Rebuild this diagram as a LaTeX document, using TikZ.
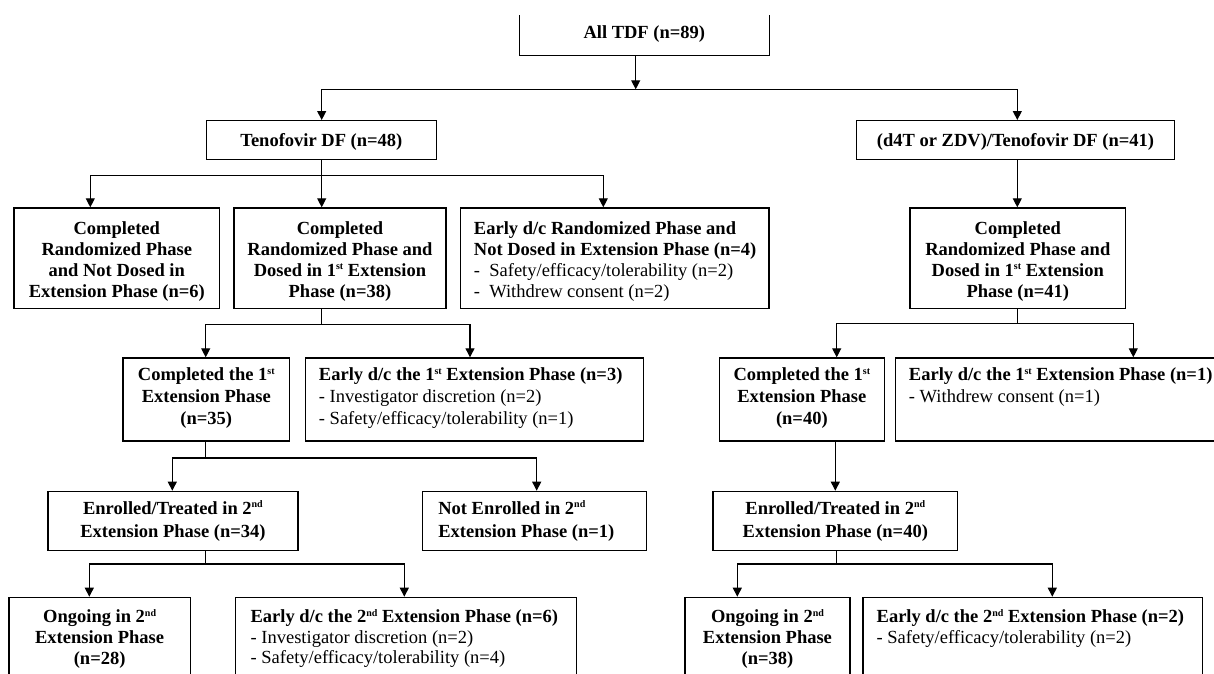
\documentclass[tikz,border=0pt]{standalone}
\usepackage{fontspec}
\setmainfont{Liberation Serif}
\usetikzlibrary{arrows.meta}
% name, x1, y1, x2, y2, first baseline, alignment, text
\newcommand\bxn[9][bx]{\node[#1] (#2) at (#3,-#4) {\parbox[t][\dimexpr #6pt-#4pt\relax][t]{\dimexpr #5pt-#3pt\relax}{#8\rule{0pt}{#7pt}#9}};}
\newcommand\sps[1]{\raisebox{0.36em}{\fontsize{10pt}{10pt}\selectfont #1}}
\begin{document}
\begin{tikzpicture}[x=1pt,y=1pt,
  bx/.style={draw, line width=1.3pt, inner sep=0pt, anchor=north west, font=\fontsize{18.5pt}{21.5pt}\selectfont\bfseries},
  nobx/.style={bx, draw=none},
  ln/.style={line width=1.1pt, line cap=rect},
  arr/.style={ln, -{Triangle[width=9pt,length=9pt]}}]
\useasboundingbox (0,0) rectangle (1214,-673);
\fill[white] (0,0) rectangle (1214,-673);
\clip (0,0) rectangle (1214,-673);

% top box (top edge not shown)
\bxn[nobx]{all}{519.3}{15}{768}{54.3}{23}{\centering}{All TDF (n=89)}
\draw[line width=1.3pt] (all.north west) -- (all.south west) -- (all.south east) -- (all.north east);

\bxn{tdf}{205.7}{120}{435.7}{159}{26}{\centering}{Tenofovir DF (n=48)}
\bxn{d4t}{855.7}{120}{1174}{159}{26}{\centering}{(d4T or ZDV)/Tenofovir DF (n=41)}

% row 3
\bxn{A}{13.3}{207.3}{219}{307.7}{26.5}{\centering\baselineskip=21pt}{Completed\\Randomized Phase\\and Not Dosed in\\Extension Phase (n=6)}
\bxn{B}{233.3}{207.3}{445.3}{307.7}{26.5}{\centering\baselineskip=21pt}{Completed\\Randomized Phase and\\Dosed in 1\sps{st} Extension\\Phase (n=38)}
\bxn{C}{460}{207.3}{768.3}{307.7}{26.5}{\raggedright\leftskip=13.3pt\baselineskip=21pt}{Early d/c Randomized Phase and\\Not Dosed in Extension Phase (n=4)\\\mdseries -\ \ Safety/efficacy/tolerability (n=2)\\-\ \ Withdrew consent (n=2)}
\bxn{D}{909.3}{207.3}{1125}{307.7}{26.5}{\centering\baselineskip=21pt}{Completed\\Randomized Phase and\\Dosed in 1\sps{st} Extension\\Phase (n=41)}

% row 4
\bxn{E}{122.3}{357.3}{289}{440.3}{23}{\centering\baselineskip=21.7pt}{Completed the 1\sps{st}\\Extension Phase\\(n=35)}
\bxn{F}{305}{357.3}{642.7}{440.3}{23}{\raggedright\leftskip=13.3pt\baselineskip=21.7pt}{Early d/c the 1\sps{st} Extension Phase (n=3)\\\mdseries - Investigator discretion (n=2)\\- Safety/efficacy/tolerability (n=1)}
\bxn{G}{718.7}{357.3}{883.7}{440.3}{23}{\centering\baselineskip=21.7pt}{Completed the 1\sps{st}\\Extension Phase\\(n=40)}
\bxn{H}{894.7}{357.3}{1230}{440.3}{23}{\raggedright\leftskip=13.6pt\baselineskip=21.7pt}{Early d/c the 1\sps{st} Extension Phase (n=1)\\\mdseries - Withdrew consent (n=1)}

% row 5
\bxn{I}{47.3}{490.7}{297.3}{550}{23}{\centering\baselineskip=23.3pt}{Enrolled/Treated in 2\sps{nd}\\Extension Phase (n=34)}
\bxn{J}{422}{490.7}{646}{550}{23}{\raggedright\leftskip=15.7pt\baselineskip=23.3pt}{Not Enrolled in 2\sps{nd}\\Extension Phase (n=1)}
\bxn{K}{712.3}{490.7}{957}{550}{23}{\centering\baselineskip=23.3pt}{Enrolled/Treated in 2\sps{nd}\\Extension Phase (n=40)}

% row 6 (cut at the bottom)
\bxn{L}{8.3}{596.7}{189.7}{700}{25.5}{\centering\baselineskip=21pt}{Ongoing in 2\sps{nd}\\Extension Phase\\(n=28)}
\bxn{M}{235}{596.7}{576}{700}{25.5}{\raggedright\leftskip=15pt\baselineskip=20.5pt}{Early d/c the 2\sps{nd} Extension Phase (n=6)\\\mdseries - Investigator discretion (n=2)\\- Safety/efficacy/tolerability (n=4)}
\bxn{N}{684.3}{596.7}{849.3}{700}{25.5}{\centering\baselineskip=21pt}{Ongoing in 2\sps{nd}\\Extension Phase\\(n=38)}
\bxn{O}{862.3}{596.7}{1201.7}{700}{25.5}{\raggedright\leftskip=13.7pt\baselineskip=20.5pt}{Early d/c the 2\sps{nd} Extension Phase (n=2)\\\mdseries - Safety/efficacy/tolerability (n=2)}

% connectors
\coordinate (j0) at (635.7,-89.3);
\coordinate (b0L) at (321.7,-89.3);
\coordinate (b0R) at (1017.3,-89.3);
\draw[arr] (all.south -| j0) -- (j0);
\draw[ln] (b0L) -- (b0R);
\draw[arr] (b0L) -- (b0L |- tdf.north);
\draw[arr] (b0R) -- (b0R |- d4t.north);

\coordinate (b1L) at (90.3,-175.7);
\coordinate (b1M) at (321.7,-175.7);
\coordinate (b1R) at (603.3,-175.7);
\draw[ln] (tdf.south -| b1M) -- (b1M);
\draw[ln] (b1L) -- (b1R);
\draw[arr] (b1L) -- (b1L |- A.north);
\draw[arr] (b1M) -- (b1M |- B.north);
\draw[arr] (b1R) -- (b1R |- C.north);

\draw[arr] (d4t.south -| b0R) -- (b0R |- D.north);

\coordinate (b2L) at (205.7,-324.3);
\coordinate (b2M) at (321.7,-324.3);
\coordinate (b2R) at (470,-324.3);
\draw[ln] (B.south -| b2M) -- (b2M);
\draw[ln] (b2L) -- (b2R);
\draw[arr] (b2L) -- (b2L |- E.north);
\draw[arr] (b2R) -- (b2R |- F.north);

\coordinate (b3L) at (836.7,-323.3);
\coordinate (b3M) at (1017.3,-323.3);
\coordinate (b3R) at (1133.3,-323.3);
\draw[ln] (D.south -| b3M) -- (b3M);
\draw[ln] (b3L) -- (b3R);
\draw[arr] (b3L) -- (b3L |- G.north);
\draw[arr] (b3R) -- (b3R |- H.north);

\coordinate (b4L) at (172.3,-458);
\coordinate (b4M) at (205.5,-458);
\coordinate (b4R) at (536.7,-458);
\draw[ln] (E.south -| b4M) -- (b4M);
\draw[ln] (b4L) -- (b4R);
\draw[arr] (b4L) -- (b4L |- I.north);
\draw[arr] (b4R) -- (b4R |- J.north);

\draw[arr] (K.north |- G.south) -- (K.north);

\coordinate (b5L) at (89.3,-564);
\coordinate (b5M) at (205.7,-564);
\coordinate (b5R) at (404.3,-564);
\draw[ln] (I.south -| b5M) -- (b5M);
\draw[ln] (b5L) -- (b5R);
\draw[arr] (b5L) -- (b5L |- L.north);
\draw[arr] (b5R) -- (b5R |- M.north);

\coordinate (b6L) at (737.3,-564);
\coordinate (b6M) at (836.3,-564);
\coordinate (b6R) at (1052.3,-564);
\draw[ln] (K.south -| b6M) -- (b6M);
\draw[ln] (b6L) -- (b6R);
\draw[arr] (b6L) -- (b6L |- N.north);
\draw[arr] (b6R) -- (b6R |- O.north);
\end{tikzpicture}
\end{document}
